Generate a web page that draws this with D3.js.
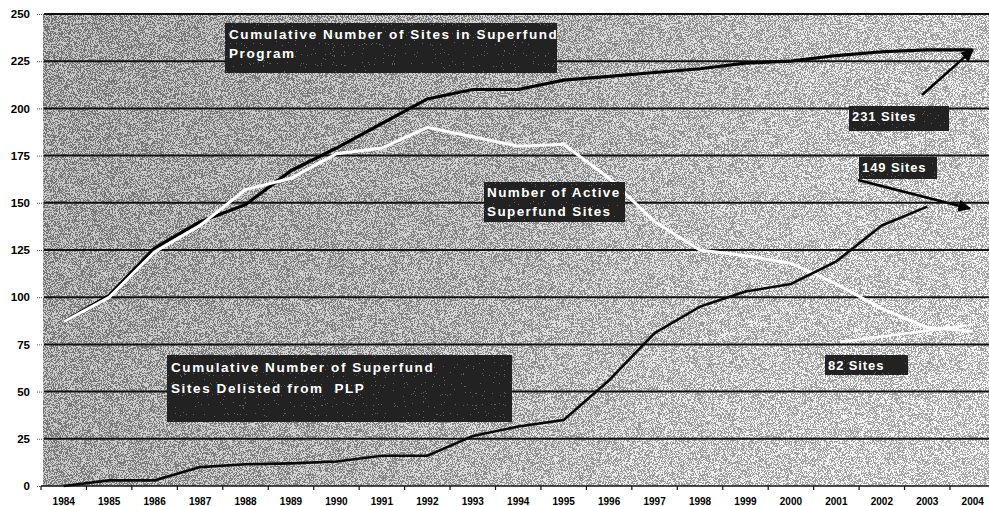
<!DOCTYPE html>
<html>
<head>
<meta charset="utf-8">
<script src="https://cdn.jsdelivr.net/npm/d3@7"></script>
<style>
  body { margin: 0; background: #fff; }
  svg text { font-family: "Liberation Sans", Arial, sans-serif; font-weight: bold; }
</style>
</head>
<body>
<div id="chart"></div>
<script>
// years on the category axis
var years = [1984, 1985, 1986, 1987, 1988, 1989, 1990, 1991, 1992, 1993, 1994,
             1995, 1996, 1997, 1998, 1999, 2000, 2001, 2002, 2003, 2004];

// cumulative number of sites in superfund program
var totalSites = [87, 101, 126, 140, 149, 167, 179, 192, 205, 210, 210,
                  215, 217, 219, 221, 224, 225, 228, 230, 231, 231];

// number of active superfund sites
var activeSites = [87, 100, 124, 138, 157, 163, 176, 179, 190, 185, 180,
                   181, 163, 140, 125, 122, 118, 107, 94, 84, 82];

// cumulative number of sites delisted from PLP (ends 2003)
var delisted = [0, 3, 3, 10, 11.5, 12, 13, 16, 16, 26.5, 31.5,
                35, 56, 81, 95, 103, 107, 119, 138, 148];

var yTicks = [0, 25, 50, 75, 100, 125, 150, 175, 200, 225, 250];

var width = 989, height = 506;

var svg = d3.select("#chart").append("svg")
    .attr("width", width)
    .attr("height", height);

var defs = svg.append("defs");

//grey background, darker on the upper left
var grad = defs.append("linearGradient")
    .attr("id", "bg")
    .attr("gradientUnits", "userSpaceOnUse")
    .attr("x1", 43).attr("y1", 14).attr("x2", 989).attr("y2", 486);
grad.append("stop").attr("offset", "0%").attr("stop-color", "#a8a8a8");
grad.append("stop").attr("offset", "45%").attr("stop-color", "#c0c0c0");
grad.append("stop").attr("offset", "70%").attr("stop-color", "#e2e2e2");
grad.append("stop").attr("offset", "100%").attr("stop-color", "#f6f6f6");

//speckle noise like the photocopy
var noise = defs.append("filter").attr("id", "noise")
    .attr("color-interpolation-filters", "sRGB")
    .attr("x", 0).attr("y", 0).attr("width", 1).attr("height", 1);
noise.append("feTurbulence")
    .attr("type", "fractalNoise")
    .attr("baseFrequency", 1.3)
    .attr("numOctaves", 1)
    .attr("seed", 4);
noise.append("feColorMatrix").attr("type", "saturate").attr("values", 0);
var ct = noise.append("feComponentTransfer");
["feFuncR", "feFuncG", "feFuncB"].forEach(function (f) {
  ct.append(f).attr("type", "discrete").attr("tableValues", "0 1");
});
ct.append("feFuncA").attr("type", "linear").attr("slope", 0).attr("intercept", 0.32);

var boxNoise = defs.append("filter").attr("id", "boxNoise")
    .attr("color-interpolation-filters", "sRGB")
    .attr("x", 0).attr("y", 0).attr("width", 1).attr("height", 1);
boxNoise.append("feTurbulence")
    .attr("type", "fractalNoise")
    .attr("baseFrequency", 1.1)
    .attr("numOctaves", 1)
    .attr("seed", 9);
boxNoise.append("feColorMatrix").attr("type", "saturate").attr("values", 0);
var bct = boxNoise.append("feComponentTransfer").attr("result", "n");
["feFuncR", "feFuncG", "feFuncB"].forEach(function (f) {
  bct.append(f).attr("type", "discrete").attr("tableValues", "0 0 1");
});
bct.append("feFuncA").attr("type", "linear").attr("slope", 0).attr("intercept", 0.25);
boxNoise.append("feComposite").attr("in", "n").attr("in2", "SourceGraphic")
    .attr("operator", "in").attr("result", "nc");
var bm = boxNoise.append("feMerge");
bm.append("feMergeNode").attr("in", "SourceGraphic");
bm.append("feMergeNode").attr("in", "nc");

//arrow heads
defs.append("marker")
    .attr("id", "head")
    .attr("viewBox", "0 0 10 10")
    .attr("refX", 9).attr("refY", 5)
    .attr("markerWidth", 5).attr("markerHeight", 5)
    .attr("orient", "auto")
  .append("path")
    .attr("d", "M0,0 L10,5 L0,10 z")
    .attr("fill", "#000");

//scales
var x = d3.scaleBand()
    .domain(years)
    .range([41, 41 + 21 * 45.45])
    .padding(0);
var y = d3.scaleLinear()
    .domain([0, 250])
    .range([486, 14]);

var cx = function (yr) { return x(yr) + x.bandwidth() / 2; };

//plot area
svg.append("rect")
    .attr("x", 43).attr("y", y(250))
    .attr("width", width - 43).attr("height", y(0) - y(250))
    .attr("fill", "url(#bg)");
svg.append("rect")
    .attr("x", 43).attr("y", y(250))
    .attr("width", width - 43).attr("height", y(0) - y(250))
    .attr("filter", "url(#noise)");

//gridlines
svg.append("g")
    .selectAll("line")
    .data(yTicks.filter(function (d) { return d > 0; }))
    .enter()
    .append("line")
    .attr("x1", 44).attr("x2", width)
    .attr("y1", function (d) { return y(d); })
    .attr("y2", function (d) { return y(d); })
    .attr("stroke", "#111")
    .attr("stroke-width", 2);

//y axis labels
var yAxis = svg.append("g")
    .attr("transform", "translate(42,0)")
    .call(d3.axisLeft(y).tickValues(yTicks).tickSize(5).tickPadding(7));
yAxis.select(".domain").remove();
yAxis.selectAll(".tick line").attr("stroke", "#555").attr("stroke-dasharray", "1,1");
yAxis.selectAll("text")
    .attr("font-size", "11.5px")
    .attr("font-family", "'Liberation Sans', Arial, sans-serif")
    .attr("fill", "#000");

//x axis
var xAxis = svg.append("g")
    .attr("transform", "translate(0," + y(0) + ")")
    .call(d3.axisBottom(x).tickSize(0).tickPadding(12));
xAxis.select(".domain").attr("stroke", "#111").attr("stroke-width", 1.5)
    .attr("d", "M41,0H" + width);
xAxis.selectAll("text")
    .attr("font-size", "10px")
    .attr("font-family", "'Liberation Sans', Arial, sans-serif")
    .attr("fill", "#000");
svg.append("g")
    .selectAll("line")
    .data(years)
    .enter()
    .append("line")
    .attr("x1", function (d) { return x(d); })
    .attr("x2", function (d) { return x(d); })
    .attr("y1", y(0)).attr("y2", y(0) + 4)
    .attr("stroke", "#111")
    .attr("stroke-width", 1.2);

//lines
var line = d3.line()
    .x(function (d, i) { return cx(years[i]); })
    .y(function (d) { return y(d); });

svg.append("path")
    .datum(totalSites)
    .attr("d", line)
    .attr("fill", "none")
    .attr("stroke", "#000")
    .attr("stroke-width", 3.2);

svg.append("path")
    .datum(activeSites)
    .attr("d", line)
    .attr("fill", "none")
    .attr("stroke", "#fff")
    .attr("stroke-width", 3);

svg.append("path")
    .datum(delisted)
    .attr("d", line)
    .attr("fill", "none")
    .attr("stroke", "#0a0a0a")
    .attr("stroke-width", 2.6);

//label boxes
var boxes = [
  {lines: ["Cumulative Number of Sites in Superfund", "Program"], x: 225, y: 23, w: 332, h: 50, tx: 229, b: 38.5, gap: 19, fs: 13.5, ls: 1.6},
  {lines: ["Number of Active", "Superfund Sites"], x: 484, y: 182, w: 141, h: 40, tx: 487, b: 197, gap: 19, fs: 13.5, ls: 1.4},
  {lines: ["Cumulative Number of Superfund", "Sites Delisted from  PLP"], x: 167, y: 355, w: 345, h: 67, tx: 171, b: 371.5, gap: 21, fs: 13.5, ls: 1.6},
  {lines: ["231 Sites"], x: 849, y: 106, w: 100, h: 25, tx: 852, b: 121, gap: 0, fs: 13, ls: 0.9},
  {lines: ["149 Sites"], x: 859, y: 157, w: 78, h: 22, tx: 862, b: 172, gap: 0, fs: 13, ls: 0.9},
  {lines: ["82 Sites"], x: 825, y: 355, w: 83, h: 20, tx: 828, b: 370, gap: 0, fs: 13, ls: 0.9}
];

var bg = svg.selectAll(".box")
    .data(boxes)
    .enter()
    .append("g")
    .attr("class", "box");

bg.append("rect")
    .attr("x", function (d) { return d.x; })
    .attr("y", function (d) { return d.y; })
    .attr("width", function (d) { return d.w; })
    .attr("height", function (d) { return d.h; })
    .attr("fill", "#2e2e2e")
    .attr("filter", "url(#boxNoise)");

bg.each(function (d) {
  var g = d3.select(this);
  d.lines.forEach(function (t, i) {
    g.append("text")
        .attr("x", d.tx)
        .attr("y", d.b + i * d.gap)
        .attr("font-size", d.fs + "px")
        .attr("letter-spacing", d.ls + "px")
        .style("white-space", "pre")
        .attr("fill", "#fff")
        .text(t);
  });
});

//arrows pointing to end values
var last = years[years.length - 1];
svg.append("line")
    .attr("x1", 922).attr("y1", 95)
    .attr("x2", cx(last)).attr("y2", y(231))
    .attr("stroke", "#000").attr("stroke-width", 2.5)
    .attr("marker-end", "url(#head)");
svg.append("line")
    .attr("x1", 858).attr("y1", 180)
    .attr("x2", cx(last) - 3).attr("y2", y(147))
    .attr("stroke", "#000").attr("stroke-width", 2.5)
    .attr("marker-end", "url(#head)");
svg.append("line")
    .attr("x1", 840).attr("y1", 342)
    .attr("x2", cx(last) - 6).attr("y2", y(85))
    .attr("stroke", "#fff").attr("stroke-width", 2.5);
</script>
</body>
</html>
